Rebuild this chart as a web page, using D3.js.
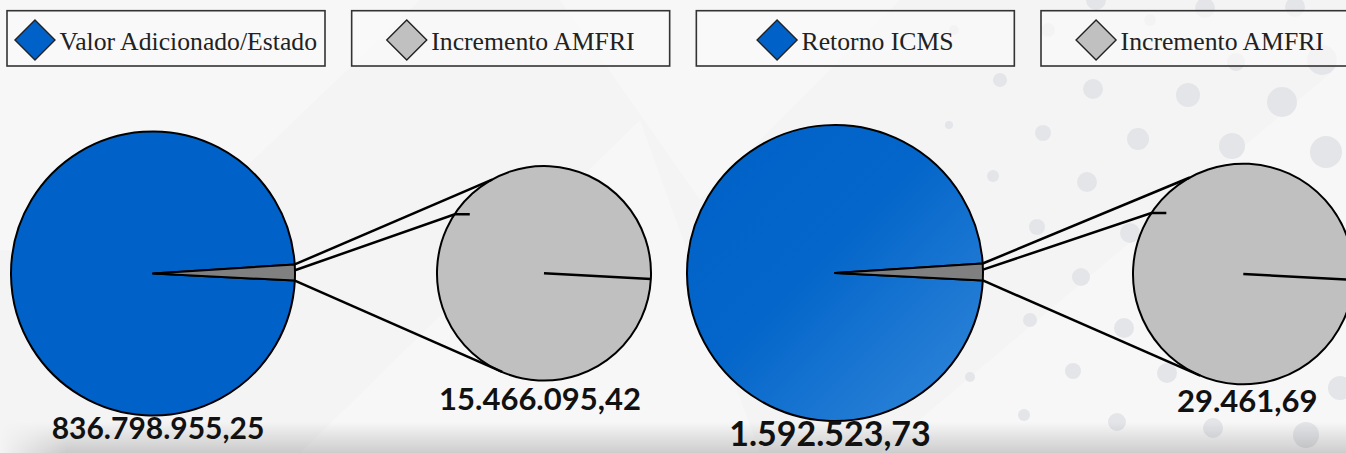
<!DOCTYPE html>
<html><head><meta charset="utf-8">
<script src="https://cdn.jsdelivr.net/npm/d3@7"></script>
<style>html,body{margin:0;padding:0;background:#f4f4f4;overflow:hidden}</style>
</head><body><svg id="c" width="1346" height="453"></svg>
<script>
// ---------- data ----------
const categoriesA = ["Valor Adicionado/Estado", "Incremento AMFRI"];
const valuesA = [836798955.25, 15466095.42];
const categoriesB = ["Retorno ICMS", "Incremento AMFRI"];
const valuesB = [1592523.73, 29461.69];
const seriesColors = ["#0062c8", "#c0c0c0"];
const wedgeColor = "#808080";

// ---------- layout ----------
const W = 1346, H = 453;
const deg = Math.PI / 180;
const charts = [
  { cats: categoriesA, vals: valuesA, cx: 153, cy: 273.5, r: 142, cx2: 544, cy2: 273.3, r2: 107,
    fill: "url(#flatBlue)", lab: [{dx: 5, dy: 23.5, fs: 30}, {dx: -4, dy: 30, fs: 31}] },
  { cats: categoriesB, vals: valuesB, cx: 835, cy: 273, r: 148, cx2: 1243.3, cy2: 274, r2: 110.3,
    fill: "url(#gradBlue)", lab: [{dx: -5, dy: 24.5, fs: 34}, {dx: 4, dy: 28, fs: 31}] }
];
const tilt = 0.4 * deg;        // wedge centre slightly above 3 o'clock
const secondStart = 93 * deg;  // start boundary of the secondary pie
const upperEnd = -29 * deg, lowerEnd = -157 * deg;
const midStart = 88.7 * deg, midEnd = -56.5 * deg;

const ptBR = d3.formatLocale({decimal: ",", thousands: ".", grouping: [3], currency: ["R$", ""]});
const fmt = ptBR.format(",.2f");

const svg = d3.select("#c");
const defs = svg.append("defs");

// background
svg.append("rect").attr("width", W).attr("height", H).attr("fill", "#f4f4f4");
const sheens = [
  [[0,0],[420,0],[160,250],[0,250]],
  [[560,0],[900,0],[700,200]],
  [[880,453],[1346,60],[1346,453]],
  [[300,453],[640,120],[760,453]]
];
svg.append("g").selectAll("polygon").data(sheens).join("polygon")
  .attr("points", d => d.map(p => p.join(",")).join(" "))
  .attr("fill", "#ffffff").attr("opacity", 0.28);

const dots = [[1000,80,7],[949,125,4],[1093,89,10],[1188,95,12],[1282,102,15],[1322,60,15],
  [1043,133,8],[1138,139,11],[1232,146,13],[1326,152,16],[993,176,6],[1087,182,10],[1037,227,8],
  [1130,233,10],[1081,277,9],[1030,320,7],[1124,328,10],[1073,371,8],[1167,373,10],[970,377,5],
  [1024,415,6],[1117,422,9],[1213,428,10],[1306,435,13],[1340,388,12],[1096,0,10],[1205,8,10],
  [1295,7,10],[954,30,5],[1048,30,7],[1236,62,9],[1150,20,6]];
svg.append("g").selectAll("circle").data(dots).join("circle")
  .attr("cx", d => d[0]).attr("cy", d => d[1]).attr("r", d => d[2]).attr("fill", "#e4e5e8");

// bottom shadow
const sg = defs.append("linearGradient").attr("id", "shadowV").attr("x1", 0).attr("y1", 0).attr("x2", 0).attr("y2", 1);
sg.append("stop").attr("offset", 0).attr("stop-color", "#000").attr("stop-opacity", 0);
sg.append("stop").attr("offset", 1).attr("stop-color", "#000").attr("stop-opacity", 0.17);
const mg = defs.append("linearGradient").attr("id", "maskH").attr("x1", 0).attr("y1", 0).attr("x2", 1).attr("y2", 0);
mg.append("stop").attr("offset", 0).attr("stop-color", "#000");
mg.append("stop").attr("offset", 0.05).attr("stop-color", "#fff");
mg.append("stop").attr("offset", 1).attr("stop-color", "#fff");
defs.append("mask").attr("id", "shMask").append("rect").attr("x", 0).attr("y", 420).attr("width", W).attr("height", 33).attr("fill", "url(#maskH)");
svg.append("rect").attr("x", 0).attr("y", 422).attr("width", W).attr("height", 31)
  .attr("fill", "url(#shadowV)").attr("mask", "url(#shMask)");

// fills
const fb = defs.append("linearGradient").attr("id", "flatBlue");
fb.append("stop").attr("offset", 0).attr("stop-color", seriesColors[0]);
fb.append("stop").attr("offset", 1).attr("stop-color", seriesColors[0]);
const gb = defs.append("linearGradient").attr("id", "gradBlue").attr("x1", 0).attr("y1", 0).attr("x2", 1).attr("y2", 1);
gb.append("stop").attr("offset", 0).attr("stop-color", "#0060c8");
gb.append("stop").attr("offset", 0.45).attr("stop-color", "#0466ca");
gb.append("stop").attr("offset", 1).attr("stop-color", "#3388da");

// legend
const legendItems = charts.flatMap((c, ci) => c.cats.map((name, i) => ({name, color: seriesColors[i]})));
const boxX = d3.scaleLinear().domain([0, 3]).range([7, 1041]);
const boxW = 318, boxY = 10.7, boxH = 55.3;
const lg = svg.append("g").selectAll("g").data(legendItems).join("g")
  .attr("transform", (d, i) => `translate(${boxX(i)},${boxY})`);
lg.append("rect").attr("width", boxW).attr("height", boxH)
  .attr("fill", "rgba(250,250,250,0.7)").attr("stroke", "#333").attr("stroke-width", 1.6);
lg.each(function (d) {
  const g = d3.select(this).append("g");
  g.append("path").attr("d", "M0,-20L20,0L0,20L-20,0Z").attr("transform", "translate(20,29.3)")
    .attr("fill", d.color).attr("stroke", "#222").attr("stroke-width", 1.4);
  const t = g.append("text").attr("x", 44.5).attr("y", 39.5).text(d.name)
    .attr("font-family", "'Liberation Serif', serif").attr("font-size", 25.7).attr("fill", "#222");
  const tw = t.node().getComputedTextLength();
  const total = 44.5 + tw;
  g.attr("transform", `translate(${(boxW - total) / 2},0)`);
});

// charts
charts.forEach(c => {
  const g = svg.append("g");
  const total = d3.sum(c.vals);
  const span = 2 * Math.PI * c.vals[1] / total;
  const center = Math.PI / 2 - tilt;
  const s = center + span / 2 - 2 * Math.PI;
  const arcs = d3.pie().sort(null).startAngle(s).endAngle(s + 2 * Math.PI)(c.vals);
  const arc = d3.arc().innerRadius(0).outerRadius(c.r);
  const gMain = g.append("g").attr("transform", `translate(${c.cx},${c.cy})`);
  gMain.selectAll("path").data(arcs).join("path").attr("d", arc)
    .attr("fill", (d, i) => i === 0 ? c.fill : wedgeColor)
    .attr("stroke", "#000").attr("stroke-width", 2).attr("stroke-linejoin", "round");

  // secondary pie: the small series on its own
  const arcs2 = d3.pie().sort(null).startAngle(secondStart).endAngle(secondStart + 2 * Math.PI)([c.vals[1]]);
  const arc2 = d3.arc().innerRadius(0).outerRadius(c.r2);
  const gSec = g.append("g").attr("transform", `translate(${c.cx2},${c.cy2})`);
  gSec.selectAll("path").data(arcs2).join("path").attr("d", arc2)
    .attr("fill", seriesColors[1]).attr("stroke", "#000").attr("stroke-width", 2);
  const pEdge = d3.pointRadial(arcs2[0].startAngle, c.r2);
  gSec.append("line").attr("x1", 0).attr("y1", 0).attr("x2", pEdge[0]).attr("y2", pEdge[1])
    .attr("stroke", "#000").attr("stroke-width", 2.5);

  // connectors
  const P1 = (a, r) => { const p = d3.pointRadial(a, r); return [c.cx + p[0], c.cy + p[1]]; };
  const P2 = (a, r) => { const p = d3.pointRadial(a, r); return [c.cx2 + p[0], c.cy2 + p[1]]; };
  const grayArc = arcs[1];
  const lines = [
    [P1(grayArc.startAngle, c.r), P2(upperEnd, c.r2)],
    [P1(grayArc.endAngle, c.r), P2(lowerEnd, c.r2)],
    (() => { const e = P2(midEnd, c.r2); return [P1(midStart, c.r), e, [e[0] + 15, e[1]]]; })()
  ];
  g.selectAll("path.conn").data(lines).join("path").attr("class", "conn")
    .attr("d", d3.line()).attr("fill", "none").attr("stroke", "#000").attr("stroke-width", 2.5);

  // value labels
  const pos = [[c.cx, c.cy + c.r], [c.cx2, c.cy2 + c.r2]];
  c.vals.forEach((v, i) => {
    g.append("text").attr("x", pos[i][0] + c.lab[i].dx).attr("y", pos[i][1] + c.lab[i].dy)
      .attr("text-anchor", "middle").attr("font-family", "Lato, 'Open Sans', sans-serif")
      .attr("font-weight", 700).attr("font-size", c.lab[i].fs).attr("fill", "#111").text(fmt(v));
  });
});
</script></body></html>
